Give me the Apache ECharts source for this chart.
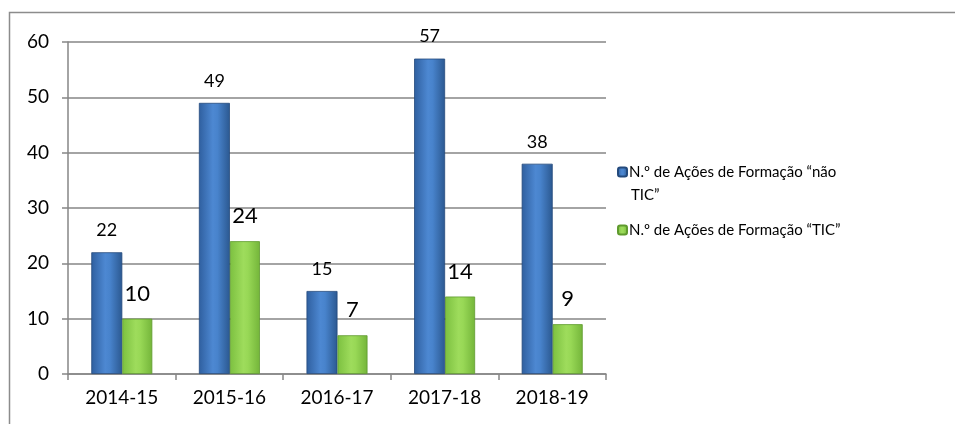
<!DOCTYPE html>
<html>
<head>
<meta charset="utf-8">
<script src="https://cdn.jsdelivr.net/npm/echarts@6/dist/echarts.min.js"></script>
<style>
  html, body { margin: 0; padding: 0; background: #fff; }
  #chart { width: 955px; height: 424px; }
</style>
</head>
<body>
<div id="chart"></div>
<script>
// anos letivos
var years = ['2014-15', '2015-16', '2016-17', '2017-18', '2018-19'];
// ações de formação
var naoTic = [22, 49, 15, 57, 38];
var tic = [10, 24, 7, 14, 9];
var seriesNames = ['N.º de Ações de Formação “não TIC”', 'N.º de Ações de Formação “TIC”'];

var FONT = 'Lato, "Open Sans", sans-serif';

var blueFill = new echarts.graphic.LinearGradient(0, 0, 1, 0, [
    {offset: 0, color: '#2f5f9f'},
    {offset: 0.45, color: '#4d88d2'},
    {offset: 0.6, color: '#4883cc'},
    {offset: 1, color: '#2b5890'}
]);
var greenFill = new echarts.graphic.LinearGradient(0, 0, 1, 0, [
    {offset: 0, color: '#7cc040'},
    {offset: 0.45, color: '#9edc5c'},
    {offset: 0.6, color: '#98d856'},
    {offset: 1, color: '#74b53a'}
]);

var chart = echarts.init(document.getElementById('chart'));

chart.setOption({
    animation: false,
    textStyle: {fontFamily: FONT},
    graphic: [
        {
            type: 'rect',
            shape: {x: 9.5, y: 12.5, width: 1000, height: 500},
            style: {fill: 'none', stroke: '#8c8c8c', lineWidth: 1.5},
            silent: true
        },
        {
            type: 'text',
            left: 631,
            top: 188,
            style: {text: 'TIC”', font: '15px ' + FONT, fill: '#000'}
        }
    ],
    grid: {left: 68, right: 349, top: 42, bottom: 50},
    legend: {
        orient: 'vertical',
        left: 617,
        top: 163,
        padding: 0,
        itemWidth: 9,
        itemHeight: 9,
        itemGap: 40,
        data: seriesNames,
        formatter: function (name) {
            return name === seriesNames[0] ? 'N.º de Ações de Formação “não' : name;
        },
        textStyle: {fontSize: 15, lineHeight: 18, color: '#000', padding: [0, 0, 0, -3]}
    },
    xAxis: {
        type: 'category',
        data: years,
        axisLine: {lineStyle: {color: '#868686', width: 1.5}},
        axisTick: {show: true, length: 6, lineStyle: {color: '#868686', width: 1.5}},
        axisLabel: {color: '#000', fontSize: 19, margin: 14}
    },
    yAxis: {
        type: 'value',
        min: 0,
        max: 60,
        interval: 10,
        axisLine: {show: true, lineStyle: {color: '#868686', width: 1.5}},
        axisTick: {show: true, length: 6, lineStyle: {color: '#868686', width: 1.5}},
        axisLabel: {color: '#000', fontSize: 19, margin: 19},
        splitLine: {lineStyle: {color: '#868686', width: 1.5}}
    },
    series: [
        {
            name: seriesNames[0],
            type: 'bar',
            data: naoTic,
            barWidth: 31,
            barGap: '0%',
            itemStyle: {color: blueFill, borderColor: '#244a7c', borderWidth: 0.8},
            label: {show: true, position: 'top', distance: 13, fontSize: 18, color: '#000'}
        },
        {
            name: seriesNames[1],
            type: 'bar',
            data: tic,
            barWidth: 30,
            itemStyle: {color: greenFill, borderColor: '#5f9a2e', borderWidth: 0.8},
            label: {show: true, position: 'top', distance: 14, fontSize: 22, color: '#000'}
        }
    ]
});
</script>
</body>
</html>
